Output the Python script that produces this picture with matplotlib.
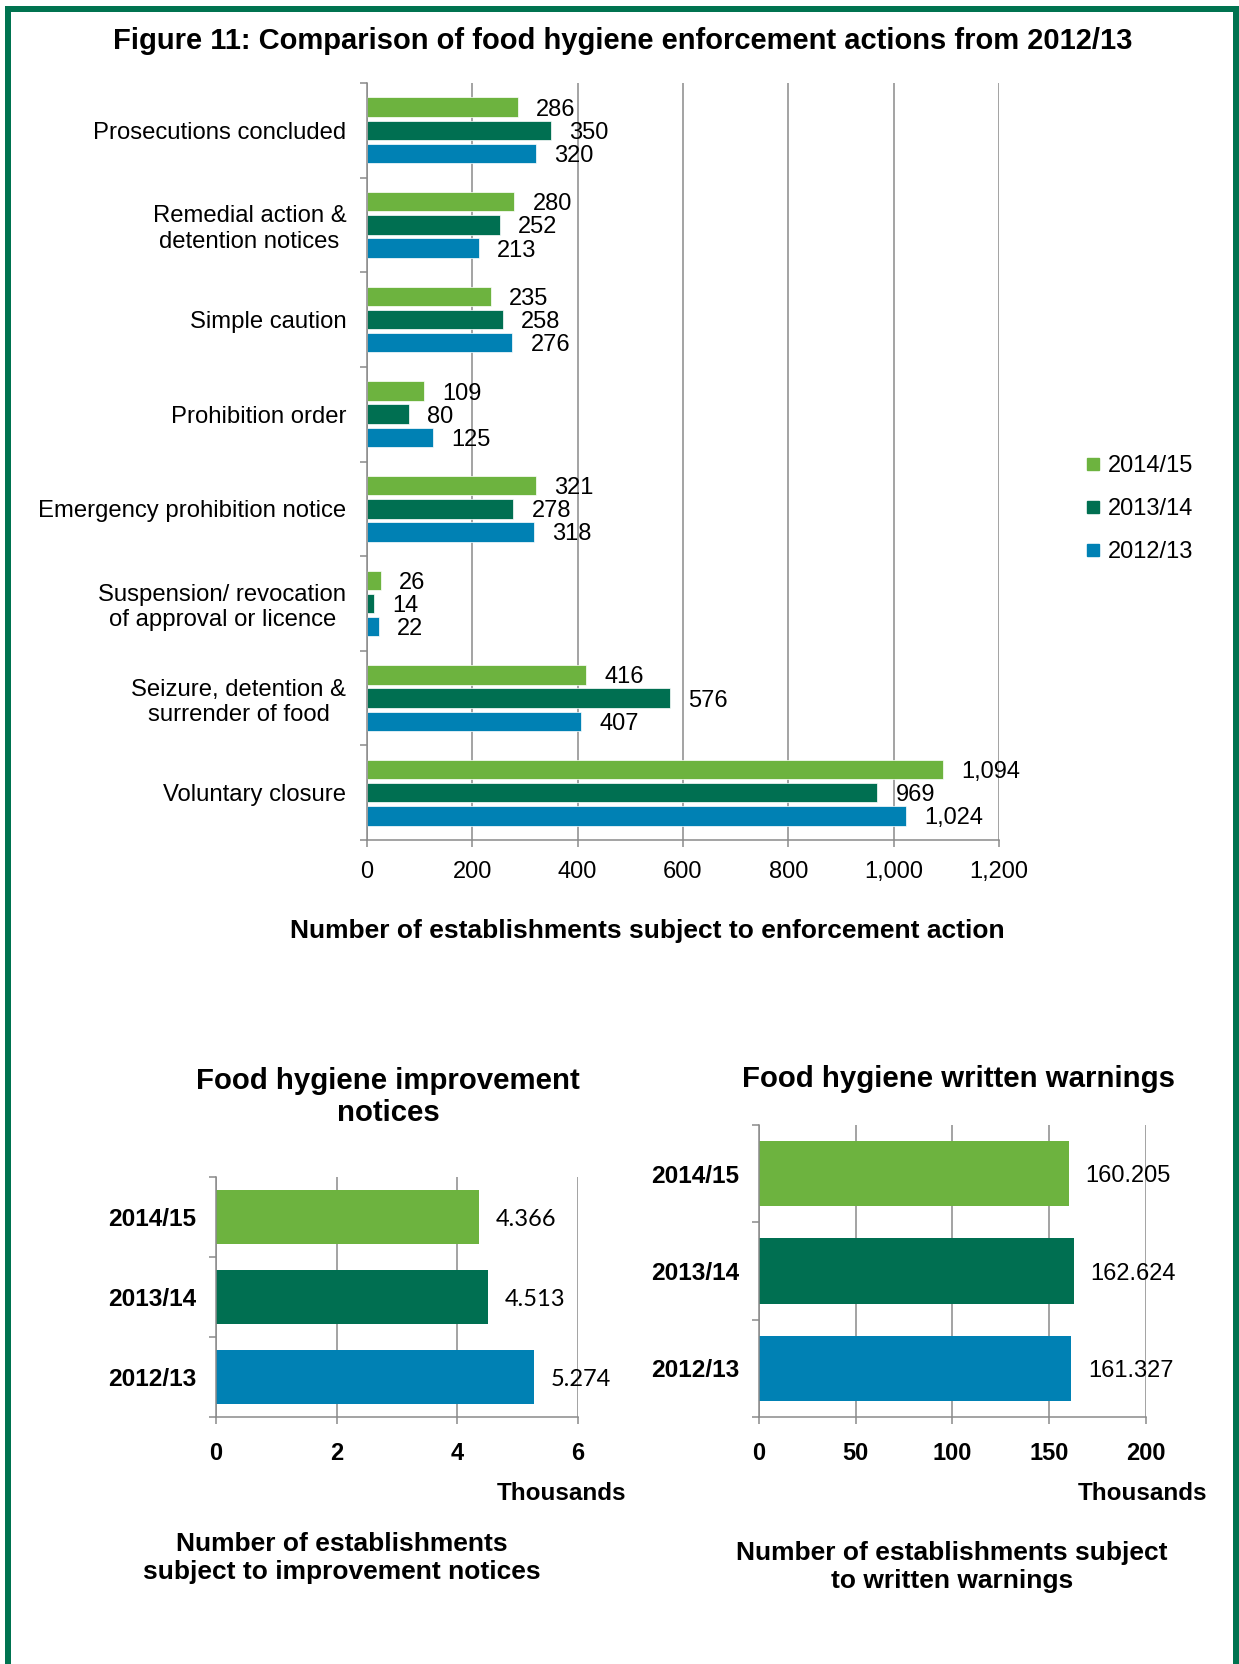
import matplotlib
matplotlib.use('Agg')
import matplotlib.pyplot as plt
from matplotlib.patches import Rectangle
from matplotlib.lines import Line2D
import numpy as np

plt.rcParams['font.family'] = ['Liberation Sans', 'DejaVu Sans']

# enforcement actions, listed top to bottom
actions = ["Prosecutions concluded",
           "Remedial action &\ndetention notices",
           "Simple caution",
           "Prohibition order",
           "Emergency prohibition notice",
           "Suspension/ revocation\nof approval or licence",
           "Seizure, detention &\nsurrender of food",
           "Voluntary closure"]
years = ["2014/15", "2013/14", "2012/13"]
actions_1415 = [286, 280, 235, 109, 321, 26, 416, 1094]
actions_1314 = [350, 252, 258, 80, 278, 14, 576, 969]
actions_1213 = [320, 213, 276, 125, 318, 22, 407, 1024]

# thousands of establishments
improvement_notices = [4.366, 4.513, 5.274]
written_warnings = [160.205, 162.624, 161.327]

colors = ['#6db33f', '#006f51', '#0081b4']
grey = '#8a8a8a'
frame_green = '#007350'

W, H = 1239, 1664
fig = plt.figure(figsize=(W / 100, H / 100), dpi=100)


def px_axes(left, top, right, bottom):
    return fig.add_axes([left / W, 1 - bottom / H, (right - left) / W, (bottom - top) / H])


def style_axes(ax):
    for s in ('top', 'right'):
        ax.spines[s].set_visible(False)
    for s in ('left', 'bottom'):
        ax.spines[s].set_color(grey)
        ax.spines[s].set_linewidth(1.1)
    ax.grid(axis='x', color=grey, linewidth=1.1)
    ax.set_axisbelow(True)
    ax.tick_params(which='major', color=grey, width=1.1, length=5)


# ---- main chart ----
ax = px_axes(367, 83, 999, 840)
style_axes(ax)
n = len(actions)
y = np.arange(n)
series = [actions_1415, actions_1314, actions_1213]
for j, vals in enumerate(series):
    pos = y + (j - 1) * 0.245
    ax.barh(pos, vals, height=0.205, color=colors[j], edgecolor='white', linewidth=0.5)
    for p, v in zip(pos, vals):
        ax.annotate(f"{v:,}", (v, p), xytext=(13, 0), textcoords='offset points',
                    va='center_baseline', ha='left', fontsize=17)
ax.set_xlim(0, 1200)
ax.set_ylim(n - 0.5, -0.5)
ax.set_xticks(np.arange(0, 1201, 200), [f"{t:,}" for t in range(0, 1201, 200)])
ax.set_yticks(np.arange(-0.5, n, 1), [])
ax.set_yticks(y, actions, minor=True)
ax.tick_params(axis='y', which='minor', length=0, pad=15, labelsize=17.2)
ax.tick_params(axis='x', labelsize=17, pad=10)
for lab in ax.get_yticklabels(minor=True):
    lab.set_multialignment('center')

handles = [Line2D([], [], marker='s', ls='', color=c, markersize=8.4) for c in colors]
fig.legend(handles, years, loc='center left', bbox_to_anchor=(1075 / W, 1 - 509 / H),
           frameon=False, fontsize=17, handlelength=0.7, handletextpad=0.3,
           labelspacing=0.88, borderaxespad=0)

fig.text(623 / W, 1 - 41 / H, "Figure 11: Comparison of food hygiene enforcement actions from 2012/13",
         ha='center', va='center', fontsize=21, fontweight='bold')
fig.text(647 / W, 1 - 931 / H, "Number of establishments subject to enforcement action",
         ha='center', va='center', fontsize=19, fontweight='bold')


# ---- small charts ----
def small_chart(box, vals, xmax, step, fmt_font, title, title_xy, xlabel, xlabel_xy, thousands_xy):
    a = px_axes(*box)
    style_axes(a)
    pos = np.arange(len(vals))
    a.barh(pos, vals, height=0.67, color=colors)
    for p, v in zip(pos, vals):
        a.annotate(f"{v:.3f}", (v, p), xytext=(12, 0), textcoords='offset points',
                   va='center_baseline', ha='left', fontsize=17, family=fmt_font)
    a.set_xlim(0, xmax)
    a.set_ylim(len(vals) - 0.5, -0.5)
    a.set_xticks(np.arange(0, xmax + step / 2, step))
    a.set_yticks(np.arange(-0.5, len(vals), 1), [])
    a.set_yticks(pos, years, minor=True)
    a.tick_params(axis='y', which='minor', length=0, pad=14, labelsize=17.6)
    a.tick_params(axis='x', labelsize=17, pad=13)
    for lab in a.get_xticklabels() + a.get_yticklabels(minor=True):
        lab.set_fontweight('bold')
    fig.text(title_xy[0] / W, 1 - title_xy[1] / H, title, ha='center', va='center',
             fontsize=21.2, fontweight='bold', linespacing=1.15)
    fig.text(xlabel_xy[0] / W, 1 - xlabel_xy[1] / H, xlabel, ha='center', va='center',
             fontsize=19, fontweight='bold', linespacing=1.2)
    fig.text(thousands_xy[0] / W, 1 - thousands_xy[1] / H, "Thousands", ha='right', va='center',
             fontsize=17.5, fontweight='bold')
    return a


small_chart((216, 1177, 578, 1417), improvement_notices, 6, 2, 'Lato',
            "Food hygiene improvement\nnotices", (388, 1097),
            "Number of establishments\nsubject to improvement notices", (342, 1558), (626, 1494))
small_chart((759, 1125, 1146, 1417), written_warnings, 200, 50, 'Liberation Sans',
            "Food hygiene written warnings", (958, 1079),
            "Number of establishments subject\nto written warnings", (952, 1567), (1207, 1494))

# green frame round the figure
for x0, y0, w, h in [(5, 6, 6, H), (5, 6, W, 6), (1233, 6, 6, H)]:
    fig.add_artist(Rectangle((x0 / W, 1 - (y0 + h) / H), w / W, h / H,
                             transform=fig.transFigure, color=frame_green, lw=0))

fig.savefig('out.png', dpi=100)
